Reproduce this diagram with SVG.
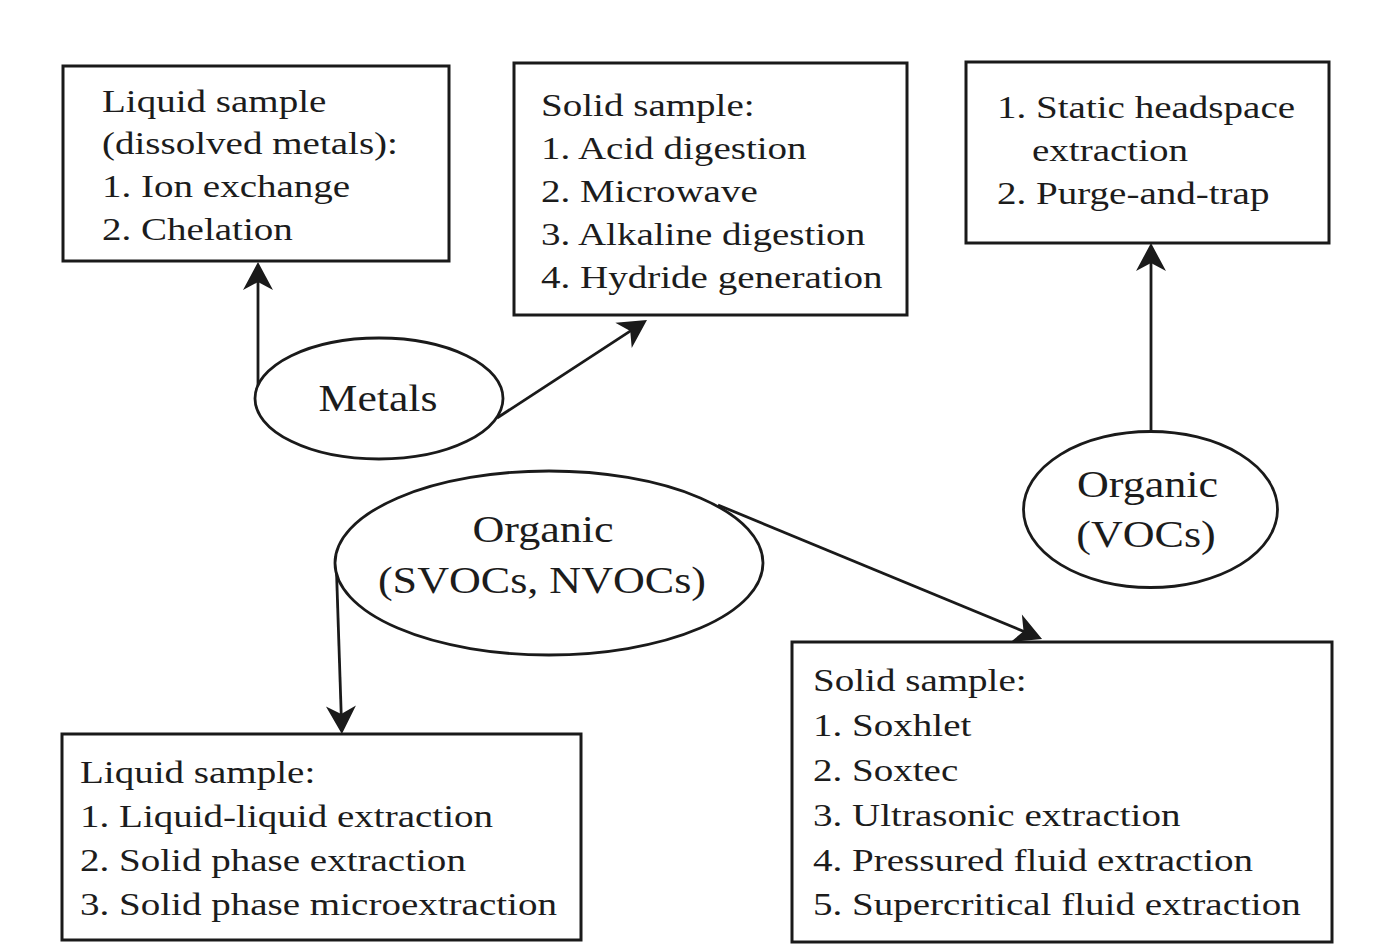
<svg xmlns="http://www.w3.org/2000/svg" width="1380" height="947" viewBox="0 0 1380 947">
  <style>
    .box { fill: #ffffff; stroke: #1a1a1a; stroke-width: 3; }
    .ell { fill: #ffffff; stroke: #1a1a1a; stroke-width: 2.8; }
    .bt { font-family: "Liberation Serif", "Times New Roman", serif; font-size: 32px; fill: #1c1c1c; }
    .et { font-family: "Liberation Serif", "Times New Roman", serif; font-size: 38px; fill: #1c1c1c; text-anchor: middle; }
    .conn { stroke: #1a1a1a; stroke-width: 2.8; fill: none; marker-end: url(#arrow); }
  </style>
  <defs>
    <marker id="arrow" markerUnits="userSpaceOnUse" markerWidth="36" markerHeight="36" viewBox="-32 -18 36 36" refX="-5" refY="0" orient="auto">
      <path d="M0,0 L-28,-15 L-20,0 L-28,15 Z" fill="#1a1a1a"/>
    </marker>
  </defs>
  <rect width="1380" height="947" fill="#ffffff"/>

  <g id="connectors">
    <path class="conn" d="M258,386 L258,267"/>
    <path class="conn" d="M497,418 L642.8,322.8"/>
    <path class="conn" d="M336,556 L341.7,729"/>
    <path class="conn" d="M718,505 L1037.4,637.1"/>
    <path class="conn" d="M1151,431 L1151,248"/>
  </g>

  <g id="liquid-metals">
    <rect class="box" x="63" y="66" width="386" height="195"/>
    <text class="bt" transform="translate(102,112) scale(1.22,1)">
      <tspan x="0" y="0">Liquid sample</tspan>
      <tspan x="0" y="42.5">(dissolved metals):</tspan>
      <tspan x="0" y="85">1. Ion exchange</tspan>
      <tspan x="0" y="128">2. Chelation</tspan>
    </text>
  </g>

  <g id="solid-metals">
    <rect class="box" x="514" y="63" width="393" height="252"/>
    <text class="bt" transform="translate(541,116) scale(1.22,1)">
      <tspan x="0" y="0">Solid sample:</tspan>
      <tspan x="0" y="43">1. Acid digestion</tspan>
      <tspan x="0" y="86">2. Microwave</tspan>
      <tspan x="0" y="129">3. Alkaline digestion</tspan>
      <tspan x="0" y="172">4. Hydride generation</tspan>
    </text>
  </g>

  <g id="voc-methods">
    <rect class="box" x="966" y="62" width="363" height="181"/>
    <text class="bt" transform="translate(997,118) scale(1.22,1)">
      <tspan x="0" y="0">1. Static headspace</tspan>
      <tspan x="28.7" y="43">extraction</tspan>
      <tspan x="0" y="86">2. Purge-and-trap</tspan>
    </text>
  </g>

  <g id="liquid-organic">
    <rect class="box" x="62" y="734" width="519" height="206"/>
    <text class="bt" transform="translate(80,783) scale(1.22,1)">
      <tspan x="0" y="0">Liquid sample:</tspan>
      <tspan x="0" y="44">1. Liquid-liquid extraction</tspan>
      <tspan x="0" y="88">2. Solid phase extraction</tspan>
      <tspan x="0" y="132">3. Solid phase microextraction</tspan>
    </text>
  </g>

  <g id="solid-organic">
    <rect class="box" x="792" y="642" width="540" height="300"/>
    <text class="bt" transform="translate(813,691) scale(1.22,1)">
      <tspan x="0" y="0">Solid sample:</tspan>
      <tspan x="0" y="45">1. Soxhlet</tspan>
      <tspan x="0" y="90">2. Soxtec</tspan>
      <tspan x="0" y="135">3. Ultrasonic extraction</tspan>
      <tspan x="0" y="180">4. Pressured fluid extraction</tspan>
      <tspan x="0" y="224">5. Supercritical fluid extraction</tspan>
    </text>
  </g>

  <g id="metals">
    <ellipse class="ell" cx="379" cy="398.5" rx="124" ry="60.5"/>
    <text class="et" transform="translate(378,411) scale(1.15,1)">Metals</text>
  </g>

  <g id="organic-svocs">
    <ellipse class="ell" cx="549" cy="563" rx="214" ry="92"/>
    <text class="et" transform="translate(543,542) scale(1.16,1)">Organic</text>
    <text class="et" transform="translate(542,593) scale(1.16,1)">(SVOCs, NVOCs)</text>
  </g>

  <g id="organic-vocs">
    <ellipse class="ell" cx="1150.5" cy="509.5" rx="127" ry="78"/>
    <text class="et" transform="translate(1147.5,497) scale(1.16,1)">Organic</text>
    <text class="et" transform="translate(1146,547) scale(1.16,1)">(VOCs)</text>
  </g>
</svg>
